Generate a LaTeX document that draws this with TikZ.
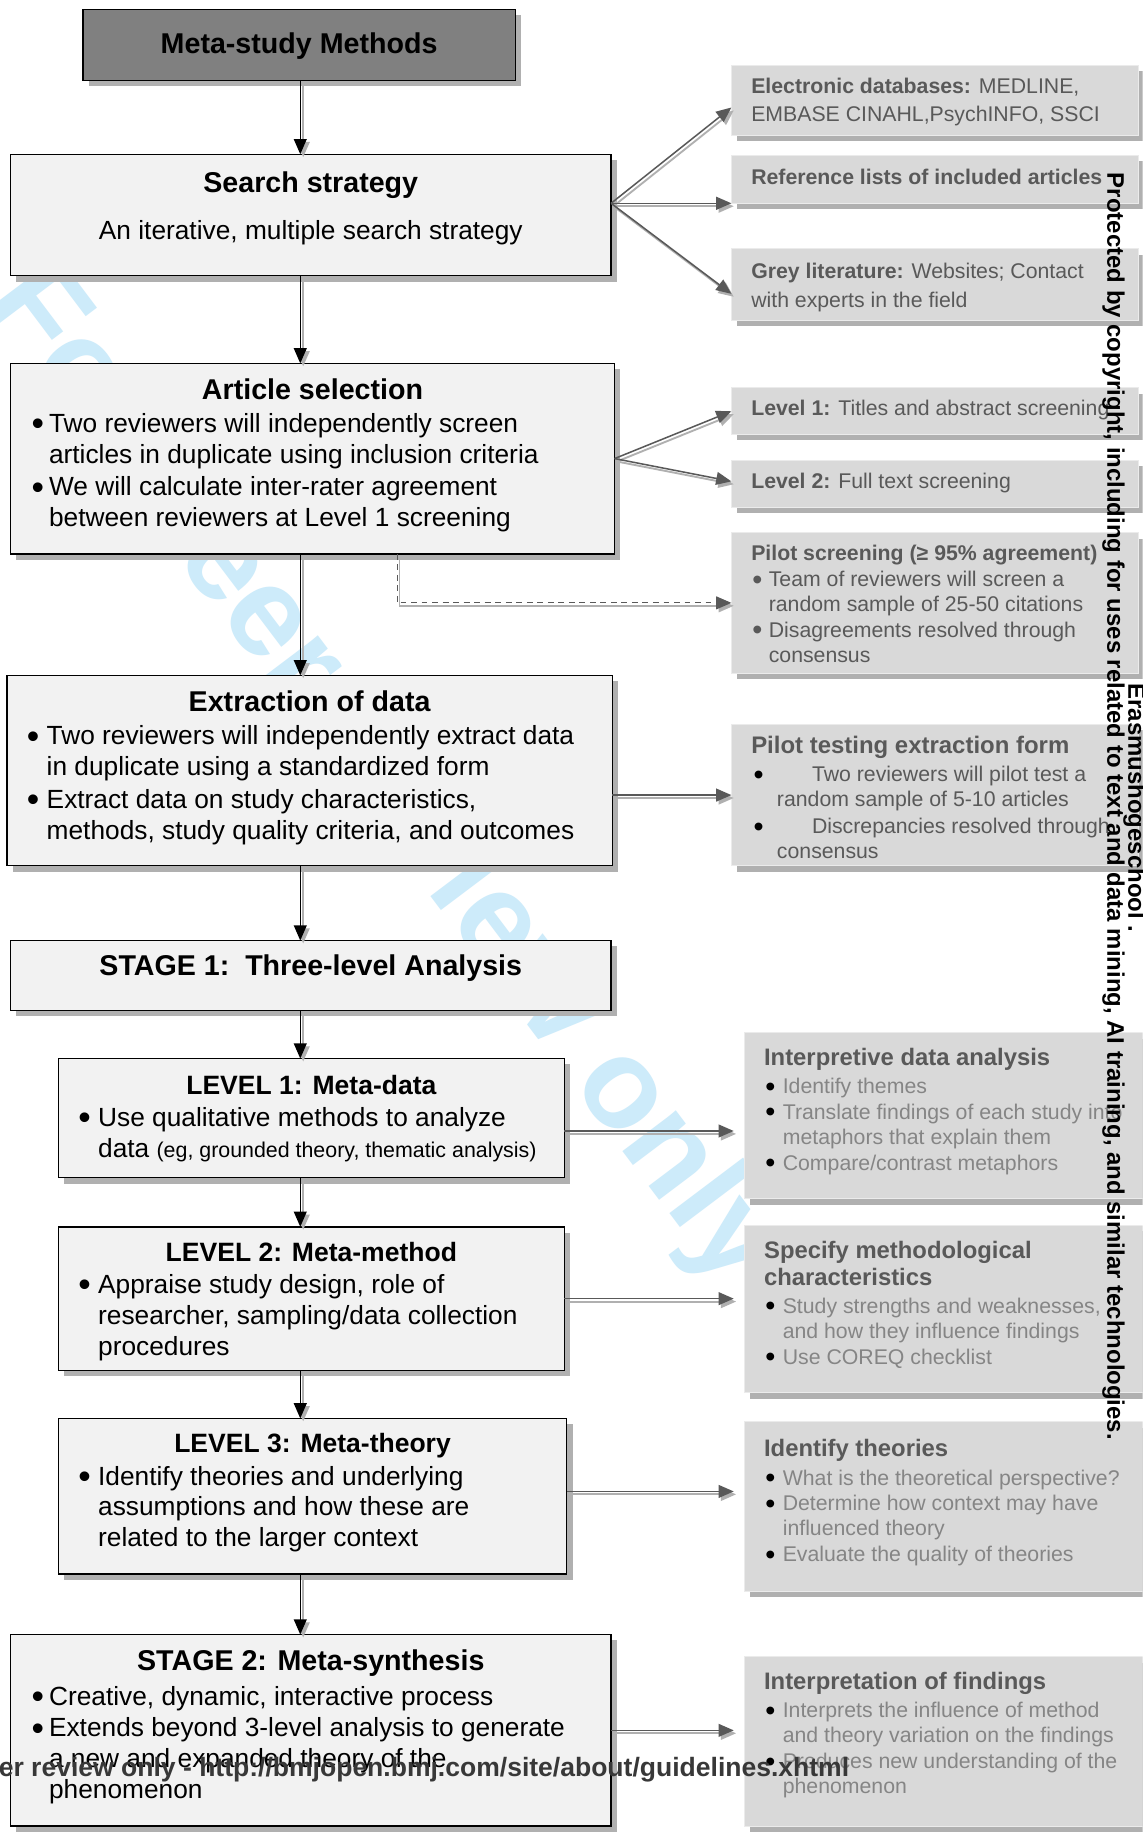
\documentclass[tikz,border=0pt]{standalone}
\usepackage{fontspec}
\setmainfont{Liberation Sans}
\usetikzlibrary{arrows.meta,calc}
\definecolor{lfill}{HTML}{F2F2F2}
\definecolor{rfill}{HTML}{D9D9D9}
\definecolor{dgray}{HTML}{595959}
\definecolor{mgray}{HTML}{858585}
\definecolor{tfill}{HTML}{808080}
\definecolor{wmblue}{RGB}{205,235,250}
\definecolor{shad}{HTML}{B0B0B0}
\newcommand{\fs}[2]{\fontsize{#1}{#2}\selectfont}
\newcommand{\cbox}[3]{\parbox[t][#2][t]{#1}{#3}}
\newcommand{\ctitle}[2]{\par{\centering\noindent\rule{0pt}{#1}#2\par}}
\newcommand{\ltitle}[3]{\par{\leftskip=#1\relax\rightskip=-30pt plus 1fil\relax\noindent\rule{0pt}{#2}#3\par}}
\newcommand{\bigbul}[1]{\raisebox{-0.125em}{\scalebox{1.35}{\color{#1}\textbullet}}}
\newcommand{\bitemg}[6]{\par\vspace{#4}{\leftskip=#1\relax\rightskip=-30pt plus 1fil\relax\hangindent=#3\relax\hangafter=1\relax\noindent\makebox[#2][l]{\bigbul{#5}}#6\par}}
\newcommand{\bitem}[5]{\bitemg{#1}{#2}{#2}{#3}{#4}{#5}}
\begin{document}
\begin{tikzpicture}[x=1pt,y=-1pt,
  shadowed/.style={preaction={fill=shad, draw=none, transform canvas={shift={(5pt,-5pt)}}}},
  tbox/.style={draw=black, line width=1.2pt, fill=tfill, inner sep=0pt, outer sep=0pt, anchor=north west, shadowed},
  lbox/.style={draw=black, line width=1.2pt, fill=lfill, inner sep=0pt, outer sep=0pt, anchor=north west, shadowed},
  rbox/.style={draw=white!92!black, line width=0.8pt, fill=rfill, inner sep=0pt, outer sep=0pt, anchor=north west, text=dgray, shadowed},
  rboxl/.style={rbox, text=mgray},
  varrow/.style={draw=black, line width=1.1pt, -{Triangle[length=13pt,width=11pt]},
    preaction={draw=shad, line width=1.6pt, transform canvas={shift={(2.5pt,-2.5pt)}}}},
  harrow/.style={draw=dgray, line width=1.3pt, -{Triangle[length=13pt,width=11pt]},
    preaction={draw=shad, line width=1.6pt, transform canvas={shift={(2pt,-2.5pt)}}}},
  wmtext/.style={inner sep=0pt, outer sep=0pt}
]
\useasboundingbox (0,0) rectangle (978,1568);
\clip (0,0) rectangle (978,1568);
\fill[white] (0,0) rectangle (978,1568);

% diagonal watermark (behind)
\node[wmtext, font=\fs{109}{120}\bfseries, text=wmblue, rotate=-53] (wmark) at (327,665) {For peer review only};

% left column
\node[tbox] (title) at (71,8) {\cbox{370pt}{61pt}{\ctitle{37.5pt}{\fs{24.5}{29}\bfseries Meta-study Methods}}};

\node[lbox] (search) at (9,132) {\cbox{514pt}{104pt}{%
  \ctitle{33pt}{\fs{24.5}{29}\bfseries Search strategy}%
  \ctitle{0pt}{\fs{22.5}{40}An iterative, multiple search strategy}}};

\node[lbox] (article) at (9,311) {\cbox{517pt}{163pt}{%
  \ctitle{31pt}{\fs{24.5}{29}\bfseries Article selection}%
  \fs{22.5}{26.5}%
  \bitem{18pt}{15pt}{1.5pt}{black}{Two reviewers will independently screen\newline articles in duplicate using inclusion criteria}%
  \bitem{18pt}{15pt}{1.5pt}{black}{We will calculate inter-rater agreement\newline between reviewers at Level 1 screening}}};

\node[lbox] (extract) at (6,578) {\cbox{518pt}{163pt}{%
  \ctitle{31pt}{\fs{24.5}{29}\bfseries Extraction of data}%
  \fs{22.5}{26.5}%
  \bitem{17pt}{17pt}{2pt}{black}{Two reviewers will independently extract data\newline in duplicate using a standardized form}%
  \bitem{17pt}{17pt}{1.5pt}{black}{Extract data on study characteristics,\newline methods, study quality criteria, and outcomes}}};

\node[lbox] (stage1) at (9,805) {\cbox{514pt}{60pt}{%
  \ctitle{30pt}{\fs{24.5}{29}\bfseries STAGE 1:\ \ Three-level Analysis}}};

\node[lbox] (lev1) at (50,906) {\cbox{433pt}{102pt}{%
  \ctitle{30.5pt}{\fs{22.7}{27}\bfseries LEVEL 1: Meta-data}%
  \fs{22.5}{27}%
  \bitem{17pt}{17pt}{0.5pt}{black}{Use qualitative methods to analyze\newline data {\fs{18.3}{27}(eg, grounded theory, thematic analysis)}}}};

\node[lbox] (lev2) at (50,1050) {\cbox{433pt}{123pt}{%
  \ctitle{29.5pt}{\fs{22.7}{27}\bfseries LEVEL 2: Meta-method}%
  \fs{22.5}{26.5}%
  \bitem{17pt}{17pt}{1pt}{black}{Appraise study design, role of\newline researcher, sampling/data collection\newline procedures}}};

\node[lbox] (lev3) at (50,1214) {\cbox{435pt}{133pt}{%
  \ctitle{29.5pt}{\fs{22.7}{27}\bfseries LEVEL 3: Meta-theory}%
  \fs{22.5}{26.5}%
  \bitem{17pt}{17pt}{1pt}{black}{Identify theories and underlying\newline assumptions and how these are\newline related to the larger context}}};

\node[lbox] (stage2) at (9,1399) {\cbox{514pt}{164pt}{%
  \ctitle{31pt}{\fs{24.5}{29}\bfseries STAGE 2: Meta-synthesis}%
  \fs{22.5}{26.5}%
  \bitem{18pt}{15pt}{3pt}{black}{Creative, dynamic, interactive process}%
  \bitem{18pt}{15pt}{0.5pt}{black}{Extends beyond 3-level analysis to generate\newline a new and expanded theory of the\newline phenomenon}}};

% right column, top
\node[rbox] (edb) at (626,56) {\cbox{348pt}{60pt}{\fs{18.2}{24}%
  \ltitle{17pt}{24pt}{\textbf{Electronic databases:} MEDLINE,\newline EMBASE CINAHL,PsychINFO, SSCI}}};
\node[rbox] (ref) at (626,133) {\cbox{348pt}{41pt}{\fs{18.2}{24}%
  \ltitle{17pt}{25pt}{\textbf{Reference lists of included articles}}}};
\node[rbox] (grey) at (626,213) {\cbox{348pt}{61pt}{\fs{18.2}{25}%
  \ltitle{17pt}{25pt}{\textbf{Grey literature:} Websites; Contact\newline with experts in the field}}};
\node[rbox] (lv1r) at (626,332) {\cbox{348pt}{40pt}{\fs{18.2}{24}%
  \ltitle{17pt}{24pt}{\textbf{Level 1:} Titles and abstract screening}}};
\node[rbox] (lv2r) at (626,394) {\cbox{348pt}{40pt}{\fs{18.2}{24}%
  \ltitle{17pt}{24pt}{\textbf{Level 2:} Full text screening}}};
\node[rbox] (ps) at (626,456) {\cbox{348pt}{120pt}{\fs{18.2}{21.3}%
  \ltitle{17pt}{24pt}{\bfseries Pilot screening (≥ 95\% agreement)}%
  \bitem{18pt}{14pt}{0.7pt}{dgray}{Team of reviewers will screen a\newline random sample of 25-50 citations}%
  \bitem{18pt}{14pt}{0.7pt}{dgray}{Disagreements resolved through\newline consensus}}};
\node[rbox] (pt) at (626,620) {\cbox{348pt}{121pt}{%
  \ltitle{17pt}{25pt}{\fs{20.5}{24}\bfseries Pilot testing extraction form}%
  \fs{18.2}{21.5}%
  \bitemg{19pt}{50pt}{20pt}{2.5pt}{black}{Two reviewers will pilot test a\newline random sample of 5-10 articles}%
  \bitemg{19pt}{50pt}{20pt}{1.5pt}{black}{Discrepancies resolved through\newline consensus}}};

% right column, lower
\node[rboxl] (ida) at (637,884) {\cbox{360pt}{142pt}{%
  \ltitle{17pt}{28pt}{\color{dgray}\fs{20.4}{24}\bfseries Interpretive data analysis}%
  \fs{18.2}{21.5}%
  \bitem{18pt}{15pt}{2.5pt}{black}{Identify themes}%
  \bitem{18pt}{15pt}{0.5pt}{black}{Translate findings of each study into\newline metaphors that explain them}%
  \bitem{18pt}{15pt}{0.5pt}{black}{Compare/contrast metaphors}}};
\node[rboxl] (smc) at (637,1049) {\cbox{360pt}{143pt}{%
  \ltitle{17pt}{28pt}{\color{dgray}\fs{20.4}{23}\bfseries Specify methodological\newline characteristics}%
  \fs{18.2}{21.5}%
  \bitem{18pt}{15pt}{2.5pt}{black}{Study strengths and weaknesses,\newline and how they influence findings}%
  \bitem{18pt}{15pt}{0.5pt}{black}{Use COREQ checklist}}};
\node[rboxl] (itheo) at (637,1217) {\cbox{360pt}{145pt}{%
  \ltitle{17pt}{30pt}{\color{dgray}\fs{20.4}{24}\bfseries Identify theories}%
  \fs{18.2}{21.5}%
  \bitem{18pt}{15pt}{2.5pt}{black}{What is the theoretical perspective?}%
  \bitem{18pt}{15pt}{0.5pt}{black}{Determine how context may have\newline influenced theory}%
  \bitem{18pt}{15pt}{0.5pt}{black}{Evaluate the quality of theories}}};
\node[rboxl] (iof) at (637,1418) {\cbox{360pt}{145pt}{%
  \ltitle{17pt}{28pt}{\color{dgray}\fs{20.4}{24}\bfseries Interpretation of findings}%
  \fs{18.2}{21.5}%
  \bitem{18pt}{15pt}{2.5pt}{black}{Interprets the influence of method\newline and theory variation on the findings}%
  \bitem{18pt}{15pt}{0.5pt}{black}{Produces new understanding of the\newline phenomenon}}};

% vertical connectors
\coordinate (col) at (257,0);
\draw[varrow] (title.south -| col) -- (search.north -| col);
\draw[varrow] (search.south -| col) -- (article.north -| col);
\draw[varrow] (article.south -| col) -- (extract.north -| col);
\draw[varrow] (extract.south -| col) -- (stage1.north -| col);
\draw[varrow] (stage1.south -| col) -- (lev1.north -| col);
\draw[varrow] (lev1.south -| col) -- (lev2.north -| col);
\draw[varrow] (lev2.south -| col) -- (lev3.north -| col);
\draw[varrow] (lev3.south -| col) -- (stage2.north -| col);

% side connectors
\coordinate (sfan) at ([yshift=10pt]search.east);
\draw[harrow] (sfan) -- ([yshift=-6pt]edb.west);
\draw[harrow] (sfan) -- (sfan -| ref.west);
\draw[harrow] (sfan) -- ([yshift=-8pt]grey.west);
\draw[harrow] (article.east) -- (lv1r.west);
\draw[harrow] (article.east) -- ([yshift=2pt]lv2r.west);
\coordinate (dstart) at ($(article.south west)!0.64!(article.south east)$);
\draw[harrow, line width=1pt, dash pattern=on 5pt off 4pt] (dstart) |- (ps.west);
\draw[harrow] (extract.east |- pt.west) -- (pt.west);
\coordinate (l1o) at ([yshift=-11pt]lev1.east);
\draw[harrow, shorten >=9pt] (l1o) -- (l1o -| ida.west);
\draw[harrow, shorten >=9pt] (lev2.east) -- (lev2.east -| smc.west);
\coordinate (l3o) at ([yshift=4pt]lev3.east);
\draw[harrow, shorten >=9pt] (l3o) -- (l3o -| itheo.west);
\draw[harrow, shorten >=9pt] (stage2.east) -- (stage2.east -| iof.west);

% overlay watermarks
\node[wmtext, font=\fs{20.5}{24}\bfseries, text=black, rotate=-90, anchor=west] (prot) at (953,148)
  {Protected by copyright, including for uses related to text and data mining, AI training, and similar technologies.};
\node[wmtext, font=\fs{20.5}{24}\bfseries, text=black, rotate=-90, anchor=west] (eras) at (971,585)
  {Erasmushogeschool .};
\node[wmtext, font=\fs{22.7}{26}\bfseries, text=black!78, anchor=west] (url) at (-1,1515)
  {er review only - http://bmjopen.bmj.com/site/about/guidelines.xhtml};
\end{tikzpicture}
\end{document}
